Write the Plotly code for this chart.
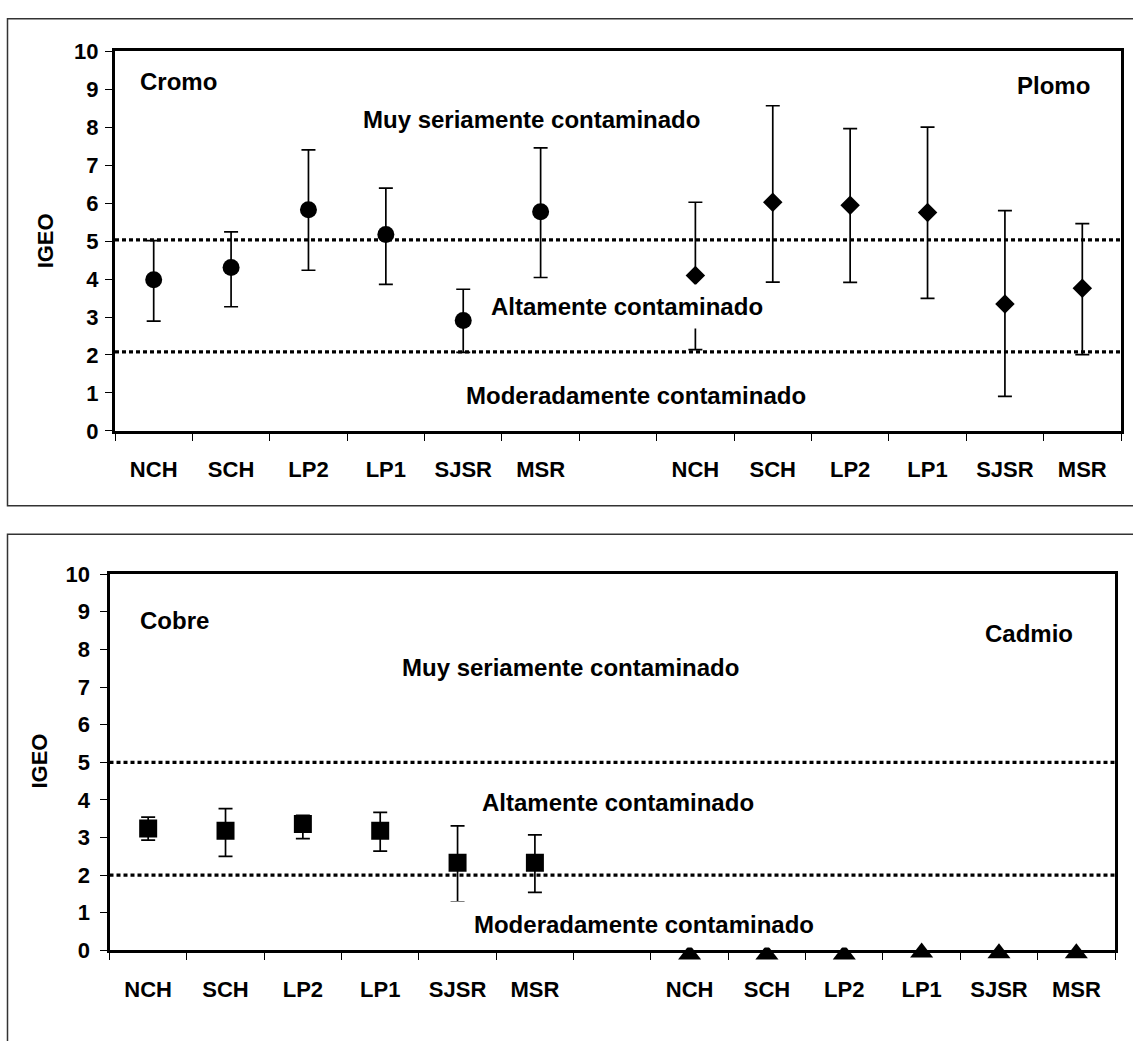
import plotly.graph_objects as go

# Sites (repeated for the two metals sharing each panel)
sites = ["NCH", "SCH", "LP2", "LP1", "SJSR", "MSR"]

# Geoaccumulation index: mean, upper and lower bounds per site
cromo_mean = [3.98, 4.30, 5.82, 5.17, 2.91, 5.77]
cromo_upper = [5.01, 5.24, 7.40, 6.39, 3.73, 7.45]
cromo_lower = [2.89, 3.27, 4.23, 3.86, 2.07, 4.04]

plomo_mean = [4.09, 6.02, 5.94, 5.75, 3.34, 3.76]
plomo_upper = [6.02, 8.56, 7.96, 8.00, 5.80, 5.46]
plomo_lower = [2.14, 3.92, 3.91, 3.49, 0.91, 2.01]

cobre_mean = [3.24, 3.18, 3.36, 3.18, 2.33, 2.33]
cobre_upper = [3.54, 3.77, 3.59, 3.67, 3.31, 3.07]
cobre_lower = [2.93, 2.50, 2.97, 2.64, 1.29, 1.54]

cadmio_mean = [0.0, 0.0, 0.0, 0.05, 0.03, 0.03]

# Class limits drawn as dotted lines
limits_top = [5.03, 2.08]
limits_bottom = [5.0, 2.0]

# Category slots: six sites, one empty slot, six sites
x_left = [1, 2, 3, 4, 5, 6]
x_right = [8, 9, 10, 11, 12, 13]
slot_labels = sites + [""] + sites

FONT = "Arial, Liberation Sans, sans-serif"
W, H = 1133, 1041


def err(mean, upper, lower):
    return dict(
        type="data", symmetric=False,
        array=[u - m for u, m in zip(upper, mean)],
        arrayminus=[m - l for m, l in zip(mean, lower)],
        color="black", thickness=1.7, width=7,
    )


fig = go.Figure()

fig.add_trace(go.Scatter(
    x=x_left, y=cromo_mean, mode="markers", xaxis="x", yaxis="y",
    marker=dict(symbol="circle", size=17, color="black", line=dict(width=0)),
    error_y=err(cromo_mean, cromo_upper, cromo_lower), showlegend=False,
))
fig.add_trace(go.Scatter(
    x=x_right, y=plomo_mean, mode="markers", xaxis="x", yaxis="y",
    marker=dict(symbol="diamond", size=15, color="black", line=dict(width=0)),
    error_y=err(plomo_mean, plomo_upper, plomo_lower), showlegend=False,
))
fig.add_trace(go.Scatter(
    x=x_left, y=cobre_mean, mode="markers", xaxis="x2", yaxis="y2",
    marker=dict(symbol="square", size=18, color="black", line=dict(width=0)),
    error_y=err(cobre_mean, cobre_upper, cobre_lower), showlegend=False,
))
# Cadmio triangles sit on the zero line, hanging just under the axis
fig.add_trace(go.Scatter(
    x=x_right, y=cadmio_mean, mode="markers", xaxis="x2", yaxis="y2",
    marker=dict(symbol="triangle-up", angle=0, standoff=4, size=20,
                color="black", line=dict(width=0)),
    cliponaxis=False, showlegend=False,
))

# Panel geometry (pixels)
top = dict(x0=115, x1=1121, y0=40, y1=429.3)
bot = dict(x0=109.5, x1=1115, y0=576, y1=961.5)


def xdom(p):
    return [p["x0"] / W, p["x1"] / W]


def ydom(p):
    return [1 - p["y1"] / H, 1 - p["y0"] / H]


centers = list(range(1, 14))

tick_font = dict(family=FONT, size=22, color="black", weight="bold")

axis_box = dict(
    showline=True, linewidth=3, linecolor="black", mirror=True,
    showgrid=False, zeroline=False,
)

layout = dict(
    width=W, height=H, margin=dict(l=0, r=0, t=0, b=0),
    paper_bgcolor="white", plot_bgcolor="white", showlegend=False,
    font=dict(family=FONT, color="black"),
)

for xa, ya, p, ystand in (("xaxis", "yaxis", top, 2),
                          ("xaxis2", "yaxis2", bot, 5)):
    yname = "y" if ya == "yaxis" else "y2"
    xname = "x" if xa == "xaxis" else "x2"
    # labels sit in the middle of each slot, tick marks on the slot boundaries
    layout[xa] = dict(
        domain=xdom(p), range=[0.5, 13.5], anchor=yname,
        tickmode="array", tickvals=centers, ticktext=slot_labels,
        ticks="", tickfont=tick_font, ticklabelstandoff=17,
        minor=dict(tickmode="linear", tick0=0.5, dtick=1, ticks="outside",
                   ticklen=7, tickwidth=1.3, tickcolor="black", showgrid=False),
        **axis_box,
    )
    layout[ya] = dict(
        domain=ydom(p), range=[0, 10], anchor=xname,
        tickmode="linear", tick0=0, dtick=1,
        ticks="outside", ticklen=7, tickwidth=1.3, tickcolor="black",
        tickfont=tick_font, ticklabelstandoff=ystand,
        **axis_box,
    )

fig.update_layout(**layout)

# Class limit lines
for v in limits_top:
    fig.add_shape(type="line", xref="x domain", yref="y", x0=0, x1=1, y0=v, y1=v,
                  line=dict(color="black", width=3.3, dash="4px,3px"), layer="below")
for v in limits_bottom:
    fig.add_shape(type="line", xref="x2 domain", yref="y2", x0=0, x1=1, y0=v, y1=v,
                  line=dict(color="black", width=3.3, dash="4px,3px"), layer="below")

# Outer frames around each panel
fig.add_shape(type="rect", xref="paper", yref="paper",
              x0=7.5 / W, x1=1.01, y0=1 - 506 / H, y1=1 - 7 / H,
              line=dict(color="#333333", width=1.5), fillcolor="rgba(0,0,0,0)")
fig.add_shape(type="rect", xref="paper", yref="paper",
              x0=7.5 / W, x1=1.01, y0=-0.02, y1=1 - 535 / H,
              line=dict(color="#333333", width=1.5), fillcolor="rgba(0,0,0,0)")

ann_font = dict(family=FONT, size=24, color="black", weight="bold")


def label(text, x, y, xr, yr, anchor="center", bg=None, pad=1, width=None):
    fig.add_annotation(
        text=text, x=x, y=y, xref=xr, yref=yr, xanchor=anchor, yanchor="middle",
        showarrow=False, font=ann_font, width=width,
        bgcolor=bg if bg else "rgba(0,0,0,0)", borderpad=pad,
    )


# Top panel labels
label("Cromo", 0.80, 9.20, "x", "y", "left")
label("Plomo", 13.13, 9.10, "x", "y", "right")
label("Muy seriamente contaminado", 5.88, 8.20, "x", "y")
label("Altamente contaminado", 7.12, 3.28, "x", "y", bg="white", pad=8)
label("Moderadamente contaminado", 7.23, 0.93, "x", "y", bg="white", pad=4)

# Bottom panel labels
label("Cobre", 0.87, 8.77, "x2", "y2", "left")
label("Cadmio", 12.98, 8.43, "x2", "y2", "right")
label("Muy seriamente contaminado", 6.46, 7.52, "x2", "y2")
label("Altamente contaminado", 7.07, 3.93, "x2", "y2", bg="white", pad=4)
label("Moderadamente contaminado", 7.41, 0.69, "x2", "y2", bg="white", pad=9,
      width=388)

# Y axis titles
for yc, xc in ((235, 45), (768, 40)):
    fig.add_annotation(
        text="IGEO", x=xc / W, y=1 - yc / H, xref="paper", yref="paper",
        xanchor="center", yanchor="middle", showarrow=False, textangle=-90,
        font=dict(family=FONT, size=22, color="black", weight="bold"),
    )

fig.write_html("out.html")
